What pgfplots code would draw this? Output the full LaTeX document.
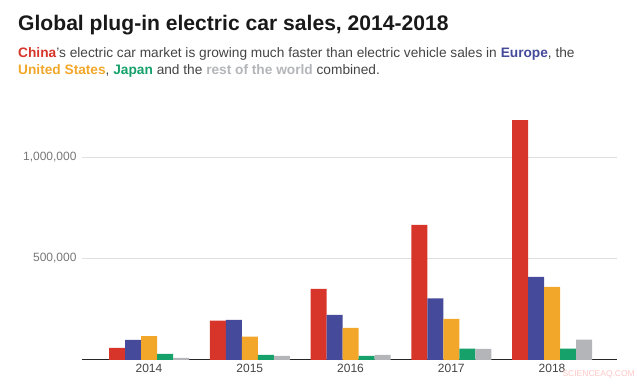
\documentclass[border=0pt]{standalone}
\usepackage{fontspec}
\setmainfont{Liberation Sans}
\usepackage{pgfplots}
\pgfplotsset{compat=1.18}
\definecolor{cChina}{HTML}{D7342A}
\definecolor{cEurope}{HTML}{464A9A}
\definecolor{cUS}{HTML}{F2A72A}
\definecolor{cJapan}{HTML}{16A06A}
\definecolor{cRest}{HTML}{B3B5B9}
\definecolor{txt}{HTML}{444444}
\definecolor{tick}{HTML}{777777}
\begin{document}
\begin{tikzpicture}[x=1pt,y=1pt]
\path[use as bounding box] (0,0) rectangle (637,385);
\node[anchor=base west, inner sep=0pt, font=\fontsize{21.1}{25}\selectfont\bfseries, text=black!90] at (18,354) {Global plug-in electric car sales, 2014-2018};
\node[anchor=base west, inner sep=0pt, font=\fontsize{13.7}{16}\selectfont, text=txt] at (18,327) {\textcolor{cChina}{\textbf{China}}'s electric car market is growing much faster than electric vehicle sales in \textcolor{cEurope}{\textbf{Europe}}, the};
\node[anchor=base west, inner sep=0pt, font=\fontsize{13.7}{16}\selectfont, text=txt] at (18,310) {\textcolor{cUS}{\textbf{United States}}, \textcolor{cJapan}{\textbf{Japan}} and the \textcolor{cRest}{\textbf{rest of the world}} combined.};
\begin{axis}[
  at={(82pt,25pt)}, anchor=south west,
  scale only axis, width=535pt, height=247.7pt,
  xmin=-0.665, xmax=4.645, ymin=0, ymax=1220000,
  ybar=0pt, bar width=16pt,
  axis lines*=left,
  x axis line style={draw=black!85, line width=1pt, -},
  y axis line style={draw=none},
  xtick={0,1,2,3,4}, xticklabels={2014,2015,2016,2017,2018},
  ytick={500000,1000000}, yticklabels={{500,000},{1,000,000}},
  scaled y ticks=false,
  major tick length=0pt,
  ymajorgrids, grid style={draw=black!12, line width=0.8pt},
  xticklabel style={font=\fontsize{12}{14}\selectfont, text=txt, yshift=-1pt},
  yticklabel style={font=\fontsize{12}{14}\selectfont, text=tick, xshift=-2pt},
  clip=false,
]
\addplot[fill=cChina, draw=none] coordinates {(0,60000) (1,194000) (2,350000) (3,665000) (4,1182000)};
\addplot[fill=cEurope, draw=none] coordinates {(0,98500) (1,197000) (2,222000) (3,304000) (4,409000)};
\addplot[fill=cUS, draw=none] coordinates {(0,118000) (1,115000) (2,158000) (3,202000) (4,360000)};
\addplot[fill=cJapan, draw=none] coordinates {(0,30000) (1,25000) (2,20000) (3,56000) (4,56000)};
\addplot[fill=cRest, draw=none] coordinates {(0,11000) (1,20000) (2,25000) (3,55000) (4,100000)};
\end{axis}
\node[anchor=base east, inner sep=0pt, font=\fontsize{8.5}{10}\selectfont, text=red!22] at (635,8) {SCIENCEAQ.COM};
\end{tikzpicture}
\end{document}
